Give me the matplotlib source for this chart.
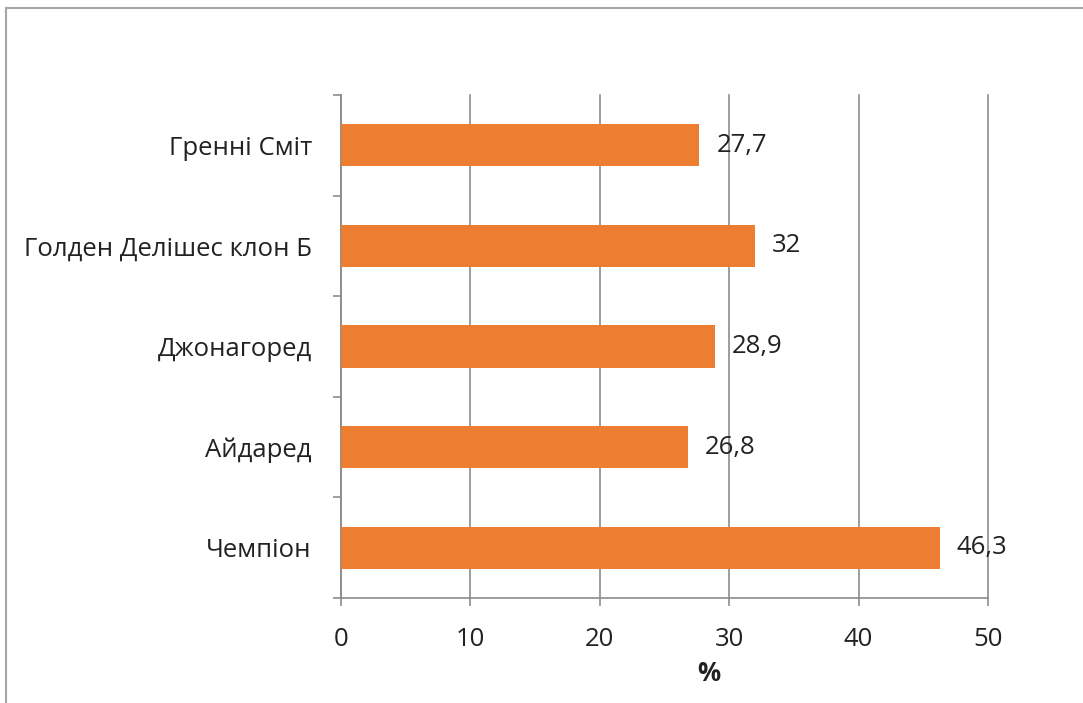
import matplotlib.pyplot as plt
from matplotlib.patches import Rectangle

plt.rcParams['font.family'] = ['Open Sans', 'DejaVu Sans']

# data, listed bottom to top as they appear on the axis
varieties = ['Чемпіон', 'Айдаред', 'Джонагоред', 'Голден Делішес клон Б', 'Гренні Сміт']
values = [46.3, 26.8, 28.9, 32, 27.7]
x_ticks = [0, 10, 20, 30, 40, 50]

text_col = '#222222'
grid_col = '#8c8c8c'
bar_col = '#ED7D31'
fs = 18.5

fig = plt.figure(figsize=(10.83, 7.03), dpi=100)
ax = fig.add_axes([341 / 1083, 1 - 598 / 703, 647 / 1083, 503 / 703])

# outer chart border
fig.patches.append(Rectangle((6 / 1083, -0.05), 1.1, 1 - 8 / 703 + 0.05,
                             transform=fig.transFigure, fill=False,
                             edgecolor='#a6a6a6', linewidth=1.5))

pos = list(range(len(varieties)))
ax.barh(pos, values, height=0.42, color=bar_col, zorder=3)

for p, v in zip(pos, values):
    lab = ('%g' % v).replace('.', ',')
    ax.text(v + 1.3, p, lab, va='center', ha='left', fontsize=fs, color=text_col, zorder=4)

ax.set_xlim(0, 50)
ax.set_ylim(-0.5, 4.5)
ax.set_xticks(x_ticks)
ax.set_xticklabels([str(t) for t in x_ticks], fontsize=fs, color=text_col)
ax.set_yticks(pos)
ax.set_yticklabels(varieties, fontsize=fs, color=text_col)
ax.set_yticks([-0.5, 0.5, 1.5, 2.5, 3.5, 4.5], minor=True)

ax.tick_params(axis='y', which='major', length=0, pad=21)
ax.tick_params(axis='y', which='minor', length=6, width=1.2, color=grid_col, direction='out')
ax.tick_params(axis='x', length=6, width=1.2, color=grid_col, direction='out', pad=15)

ax.grid(axis='x', color=grid_col, linewidth=1.2, zorder=0)
for gl in ax.get_xgridlines():
    gl.set_clip_on(False)
for s in ['top', 'right']:
    ax.spines[s].set_visible(False)
for s in ['left', 'bottom']:
    ax.spines[s].set_color(grid_col)
    ax.spines[s].set_linewidth(1.2)

ax.set_xlabel('%', fontsize=fs, fontweight='bold', color=text_col)
ax.xaxis.set_label_coords((709 - 341) / 647, -0.123)

fig.savefig('out.png', dpi=100)
